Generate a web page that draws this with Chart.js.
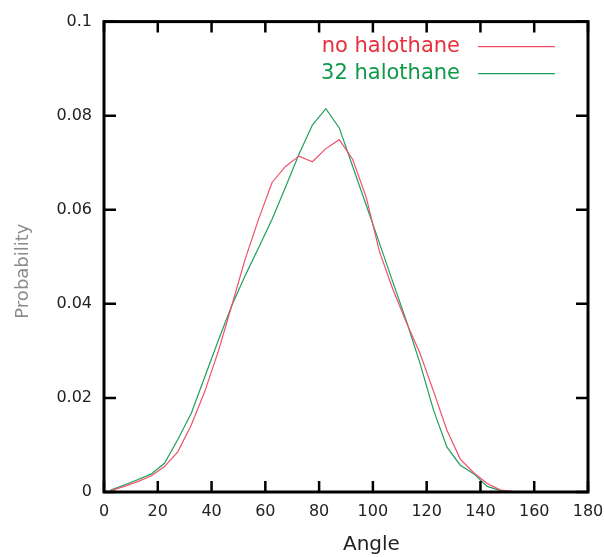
<!DOCTYPE html>
<html>
<head>
<meta charset="utf-8">
<script src="https://cdn.jsdelivr.net/npm/chart.js@4.4.1/dist/chart.umd.min.js"></script>
<style>
  html, body { margin: 0; padding: 0; background: #fff; }
  #wrap { width: 604px; height: 557px; }
</style>
</head>
<body>
<div id="wrap"><canvas id="grafico"></canvas></div>
<script>
// bin centres (degrees)
const angulos = [2.5, 7.5, 12.5, 17.5, 22.5, 27.5, 32.5, 37.5, 42.5, 47.5, 52.5, 57.5,
  62.5, 67.5, 72.5, 77.5, 82.5, 87.5, 92.5, 97.5, 102.5, 107.5, 112.5, 117.5,
  122.5, 127.5, 132.5, 137.5, 142.5, 147.5, 152.5, 157.5, 162.5, 167.5, 172.5, 177.5];

const semHalotano = [0.0003, 0.0012, 0.0022, 0.0034, 0.0054, 0.0086, 0.0143, 0.0214, 0.0299, 0.0396, 0.0495, 0.0580,
  0.0658, 0.0692, 0.0714, 0.0702, 0.0730, 0.0749, 0.0707, 0.0627, 0.0510, 0.0430, 0.0360, 0.0295,
  0.0215, 0.0132, 0.0070, 0.0041, 0.0018, 0.0004, 0.0001, 0, 0, 0, 0, 0];

const com32Halotano = [0.0004, 0.0015, 0.0026, 0.0038, 0.0061, 0.0112, 0.0168, 0.0245, 0.0322, 0.0396, 0.0460, 0.0519,
  0.0580, 0.0648, 0.0718, 0.0780, 0.0815, 0.0774, 0.0692, 0.0610, 0.0528, 0.0445, 0.0363, 0.0274,
  0.0175, 0.0096, 0.0057, 0.0039, 0.0012, 0.0003, 0.0001, 0, 0, 0, 0, 0];

const rotulos = ['no halothane', '32 halothane'];
const xTicks = [0, 20, 40, 60, 80, 100, 120, 140, 160, 180];
const yTicks = [0, 0.02, 0.04, 0.06, 0.08, 0.1];

const corLinha = ['#f0506a', '#1fa05a'];
const corTexto = ['#e8303c', '#0f9a48'];
const fonte = 'DejaVu Sans';

// frame with inward ticks on all four sides + legend on the right
const moldura = {
  id: 'moldura',
  afterDraw(chart) {
    const { ctx, chartArea: a, scales: { x, y } } = chart;
    ctx.save();
    ctx.strokeStyle = '#000';
    ctx.lineWidth = 2.5;
    xTicks.forEach(v => {
      const px = x.getPixelForValue(v);
      ctx.beginPath();
      ctx.moveTo(px, a.bottom); ctx.lineTo(px, a.bottom - 11);
      ctx.moveTo(px, a.top); ctx.lineTo(px, a.top + 11);
      ctx.stroke();
    });
    yTicks.forEach(v => {
      const py = y.getPixelForValue(v);
      ctx.beginPath();
      ctx.moveTo(a.left, py); ctx.lineTo(a.left + 12, py);
      ctx.moveTo(a.right, py); ctx.lineTo(a.right - 12, py);
      ctx.stroke();
    });
    ctx.lineWidth = 3;
    ctx.strokeRect(a.left, a.top, a.right - a.left, a.bottom - a.top);

    ctx.font = '21px "' + fonte + '"';
    ctx.textAlign = 'right';
    ctx.textBaseline = 'middle';
    chart.data.datasets.forEach((ds, i) => {
      const yy = a.top + 25 + i * 27;
      ctx.fillStyle = corTexto[i];
      ctx.fillText(ds.label, a.right - 128, yy);
      ctx.strokeStyle = ds.borderColor;
      ctx.lineWidth = 1.2;
      ctx.beginPath();
      ctx.moveTo(a.right - 110, yy);
      ctx.lineTo(a.right - 33, yy);
      ctx.stroke();
    });
    ctx.restore();
  }
};

new Chart(document.getElementById('grafico'), {
  type: 'line',
  data: {
    datasets: [
      {
        label: rotulos[0],
        data: angulos.map((a, i) => ({ x: a, y: semHalotano[i] })),
        borderColor: corLinha[0],
        borderWidth: 1.2,
        pointRadius: 0,
        tension: 0
      },
      {
        label: rotulos[1],
        data: angulos.map((a, i) => ({ x: a, y: com32Halotano[i] })),
        borderColor: corLinha[1],
        borderWidth: 1.2,
        pointRadius: 0,
        tension: 0
      }
    ]
  },
  options: {
    responsive: true,
    maintainAspectRatio: false,
    animation: false,
    layout: { padding: { left: 0, right: 16, top: 20, bottom: 0 } },
    plugins: {
      legend: { display: false },
      tooltip: { enabled: false }
    },
    scales: {
      x: {
        type: 'linear',
        min: 0,
        max: 180,
        afterFit: s => { s.height = 65; s.paddingRight = 0; s.paddingLeft = 0; },
        afterBuildTicks: s => { s.ticks = xTicks.map(v => ({ value: v })); },
        grid: { display: false, drawTicks: false },
        border: { display: false },
        ticks: {
          padding: 10,
          color: '#222',
          maxRotation: 0,
          font: { family: fonte, size: 16 }
        },
        title: {
          display: true,
          text: '        Angle',
          color: '#222',
          padding: { top: 0, bottom: 0 },
          font: { family: fonte, size: 20 }
        }
      },
      y: {
        type: 'linear',
        min: 0,
        max: 0.1,
        afterFit: s => { s.width = 104; },
        afterBuildTicks: s => { s.ticks = yTicks.map(v => ({ value: v })); },
        grid: { display: false, drawTicks: false },
        border: { display: false },
        ticks: {
          padding: 12,
          color: '#222',
          font: { family: fonte, size: 16 },
          callback: v => String(+v.toFixed(2))
        },
        title: {
          display: true,
          text: 'Probability     ',
          color: '#8c8c8c',
          padding: { top: 13, bottom: 0 },
          font: { family: fonte, size: 18 }
        }
      }
    }
  },
  plugins: [moldura]
});
</script>
</body>
</html>
